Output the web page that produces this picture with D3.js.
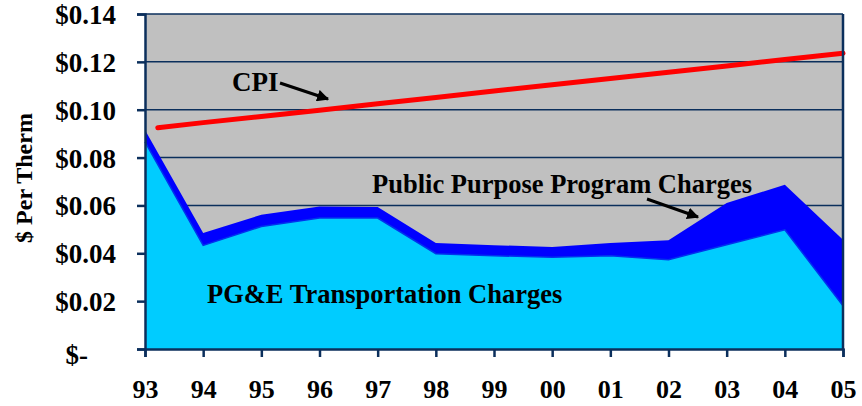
<!DOCTYPE html>
<html>
<head>
<meta charset="utf-8">
<script src="https://cdn.jsdelivr.net/npm/d3@7"></script>
<style>
  body { margin: 0; background: #fff; }
  svg text { font-family: "Liberation Serif", "Times New Roman", serif !important; font-weight: bold; fill: #000; }
</style>
</head>
<body>
<div id="chart"></div>
<script>
/* chart data */
var years = ["93", "94", "95", "96", "97", "98", "99", "00", "01", "02", "03", "04", "05"];
var pgeCharges = [0.0866, 0.0433, 0.0512, 0.0547, 0.0547, 0.0398, 0.0390, 0.0383, 0.0390, 0.0373, 0.0436, 0.0498, 0.0181];
var pppCharges = [0.0049, 0.0052, 0.0049, 0.0049, 0.0046, 0.0045, 0.0044, 0.0043, 0.0053, 0.0081, 0.0174, 0.0188, 0.0276];
// CPI line starts a little after the 93 tick
var cpiPos = [0.22, 1, 2, 3, 4, 5, 6, 7, 8, 9, 10, 11, 12];
var cpiValues = [0.0925, 0.0946, 0.0972, 0.0998, 0.1025, 0.1051, 0.1078, 0.1104, 0.1130, 0.1157, 0.1183, 0.1210, 0.1236];
var yTicks = [0, 0.02, 0.04, 0.06, 0.08, 0.10, 0.12, 0.14];

var width = 862, height = 406;
var margin = { top: 14, right: 19, bottom: 57, left: 145 };
var navy = "#0b2f5c";
var serif = "'Liberation Serif', 'Times New Roman', serif";

var svg = d3.select("#chart").append("svg")
    .attr("width", width)
    .attr("height", height);

var x = d3.scaleLinear()
    .domain([0, years.length - 1])
    .range([margin.left, width - margin.right]);

var y = d3.scaleLinear()
    .domain([0, 0.14])
    .range([height - margin.bottom, margin.top]);

/* plot background */
svg.append("rect")
    .attr("x", x(0))
    .attr("y", y(0.14))
    .attr("width", x(12) - x(0))
    .attr("height", y(0) - y(0.14))
    .attr("fill", "#c0c0c0");

/* gridlines */
svg.selectAll(".grid")
    .data(yTicks.filter(function (d) { return d > 0; }))
    .enter().append("line")
    .attr("class", "grid")
    .attr("x1", x(0))
    .attr("x2", x(12))
    .attr("y1", function (d) { return y(d); })
    .attr("y2", function (d) { return y(d); })
    .attr("stroke", navy)
    .attr("stroke-width", 1.5);

/* stacked areas */
var rows = years.map(function (yr, i) {
    return { i: i, pge: pgeCharges[i], ppp: pppCharges[i] };
});
var stack = d3.stack().keys(["pge", "ppp"]);
var layers = stack(rows);
var colors = { pge: "#00ccff", ppp: "#0000ff" };

var area = d3.area()
    .x(function (d) { return x(d.data.i); })
    .y0(function (d) { return y(d[0]); })
    .y1(function (d) { return y(d[1]); });

svg.selectAll(".layer")
    .data(layers)
    .enter().append("path")
    .attr("class", "layer")
    .attr("d", area)
    .attr("fill", function (d) { return colors[d.key]; });

// thin edge between the two layers
svg.append("path")
    .datum(layers[0])
    .attr("d", d3.line()
        .x(function (d) { return x(d.data.i); })
        .y(function (d) { return y(d[1]); }))
    .attr("fill", "none")
    .attr("stroke", "#0033ee")
    .attr("stroke-width", 1.5);

/* CPI line */
var cpiLine = d3.line()
    .x(function (d, i) { return x(cpiPos[i]); })
    .y(function (d) { return y(d); });

svg.append("path")
    .datum(cpiValues)
    .attr("d", cpiLine)
    .attr("fill", "none")
    .attr("stroke", "#ff0000")
    .attr("stroke-width", 5)
    .attr("stroke-linecap", "round");

/* axes */
var yAxis = d3.axisLeft(y)
    .tickValues(yTicks)
    .tickSize(8)
    .tickPadding(20)
    .tickFormat(function (d) { return d === 0 ? "$-" : "$" + d.toFixed(2); });

var gy = svg.append("g")
    .attr("transform", "translate(" + margin.left + ",0)")
    .attr("font-family", serif)
    .call(yAxis);
gy.select(".domain").attr("stroke", navy).attr("stroke-width", 2.5);
gy.selectAll(".tick line").attr("stroke", navy).attr("stroke-width", 2.5);
gy.selectAll(".tick text")
    .style("font-family", serif)
    .style("font-size", "27px")
    .attr("dy", "0.35em")
    .attr("x", function (d) { return d === 0 ? -57 : -29; })
    .attr("y", function (d) { return d === 0 ? 5 : 0; });

var xAxis = d3.axisBottom(x)
    .tickValues(d3.range(years.length))
    .tickSize(8)
    .tickPadding(23)
    .tickFormat(function (d) { return years[d]; });

var gx = svg.append("g")
    .attr("transform", "translate(0," + y(0) + ")")
    .attr("font-family", serif)
    .call(xAxis);
gx.select(".domain").attr("stroke", navy).attr("stroke-width", 2.5);
gx.selectAll(".tick line").attr("stroke", navy).attr("stroke-width", 2.5);
gx.selectAll(".tick text")
    .style("font-family", serif)
    .style("font-size", "26px");

// right border
svg.append("line")
    .attr("x1", x(12)).attr("x2", x(12))
    .attr("y1", y(0)).attr("y2", y(0.14))
    .attr("stroke", navy).attr("stroke-width", 2.5);

/* y axis title */
svg.append("text")
    .attr("transform", "translate(32,178) rotate(-90)")
    .attr("text-anchor", "middle")
    .style("font-family", serif)
    .style("font-size", "24px")
    .text("$ Per Therm");

/* annotations */
svg.append("defs").append("marker")
    .attr("id", "arrow")
    .attr("viewBox", "0 0 10 10")
    .attr("refX", 9).attr("refY", 5)
    .attr("markerWidth", 4).attr("markerHeight", 4)
    .attr("orient", "auto")
    .append("path")
    .attr("d", "M0,0 L10,5 L0,10 z")
    .attr("fill", "#000");

svg.append("text")
    .attr("x", 232).attr("y", 91)
    .style("font-family", serif)
    .style("font-size", "27px")
    .text("CPI");
svg.append("line")
    .attr("x1", 280).attr("y1", 83)
    .attr("x2", 328).attr("y2", 99)
    .attr("stroke", "#000").attr("stroke-width", 3)
    .attr("marker-end", "url(#arrow)");

svg.append("text")
    .attr("x", 372).attr("y", 193)
    .style("font-family", serif)
    .style("font-size", "26.5px")
    .text("Public Purpose Program Charges");
svg.append("line")
    .attr("x1", 647).attr("y1", 199)
    .attr("x2", 698).attr("y2", 217)
    .attr("stroke", "#000").attr("stroke-width", 3)
    .attr("marker-end", "url(#arrow)");

svg.append("text")
    .attr("x", 207).attr("y", 303)
    .style("font-family", serif)
    .style("font-size", "26.5px")
    .text("PG&E Transportation Charges");
</script>
</body>
</html>
